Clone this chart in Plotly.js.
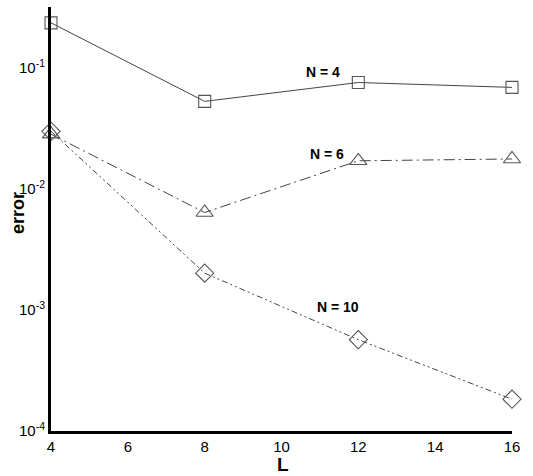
<!DOCTYPE html>
<html>
<head>
<meta charset="utf-8">
<script src="https://cdn.plot.ly/plotly-3.0.1.min.js"></script>
<style>html,body{margin:0;padding:0;background:#fff;}#chart{width:533px;height:476px;}</style>
</head>
<body>
<div id="chart"></div>
<script>
const L = [4, 8, 12, 16];
const errN4 = [0.234, 0.0526, 0.0753, 0.0686];
const errN6 = [0.0282, 0.00636, 0.0170, 0.0176];
const errN10 = [0.0298, 0.00201, 0.000567, 0.000183];
const seriesNames = ['N = 4', 'N = 6', 'N = 10'];
const yTickVals = [1e-4, 1e-3, 1e-2, 1e-1];
const yTickText = ['10<sup>-4</sup>', '10<sup>-3</sup>', '10<sup>-2</sup>', '10<sup>-1</sup>'];
const xTickVals = [4, 6, 8, 10, 12, 14, 16];
const xTitle = 'L';
const yTitle = 'error';

const lineCol = '#444';
const mk = (sym, size) => ({symbol: sym, size: size, color: '#555', line: {color: '#555', width: 1.1}});

const traces = [
  {x: L, y: errN4, name: seriesNames[0], mode: 'lines+markers', line: {color: lineCol, width: 1}, marker: mk('square-open', 12), cliponaxis: false},
  {x: L, y: errN6, name: seriesNames[1], mode: 'lines+markers', line: {color: lineCol, width: 1, dash: '11px,4px,2px,4px'}, marker: mk('triangle-up-open', 15), cliponaxis: false},
  {x: L, y: errN10, name: seriesNames[2], mode: 'lines+markers', line: {color: lineCol, width: 1, dash: '6px,3px,2px,3px,2px,3px'}, marker: mk('diamond-open', 14), cliponaxis: false}
];

const lblFont = {family: 'Liberation Sans, Arial, sans-serif', size: 14, color: '#000', weight: 'bold'};
const layout = {
  width: 533, height: 476,
  margin: {l: 51, r: 21, t: 7, b: 45},
  paper_bgcolor: '#fff', plot_bgcolor: '#fff',
  showlegend: false,
  font: {family: 'Liberation Sans, Arial, sans-serif', color: '#000'},
  xaxis: {
    range: [4, 16], tickvals: xTickVals, ticks: '', showgrid: false, zeroline: false,
    showline: true, linecolor: '#000', linewidth: 3,
    tickfont: {size: 15, color: '#000'}, ticklabelstandoff: 0
  },
  yaxis: {
    type: 'log', range: [-4, -0.5], tickvals: yTickVals, ticktext: yTickText, ticks: '',
    showgrid: false, zeroline: false, showline: true, linecolor: '#000', linewidth: 3,
    tickfont: {size: 15, color: '#000'}
  },
  annotations: [
    {x: 11.08, y: Math.log10(0.0918), text: seriesNames[0], showarrow: false, font: lblFont},
    {x: 11.18, y: Math.log10(0.0193), text: seriesNames[1], showarrow: false, font: lblFont},
    {x: 11.47, y: Math.log10(0.00105), text: seriesNames[2], showarrow: false, font: lblFont},
    {xref: 'paper', yref: 'paper', x: 0.503, y: -0.08, yanchor: 'middle', xanchor: 'center', text: '<b>' + xTitle + '</b>', showarrow: false, font: {size: 19, color: '#000'}},
    {xref: 'paper', yref: 'paper', x: -0.0716, y: 0.514, yanchor: 'middle', xanchor: 'center', textangle: -90, text: '<b>' + yTitle + '</b>', showarrow: false, font: {size: 18, color: '#000'}}
  ]
};
Plotly.newPlot('chart', traces, layout, {displayModeBar: false, staticPlot: true});
</script>
</body>
</html>
